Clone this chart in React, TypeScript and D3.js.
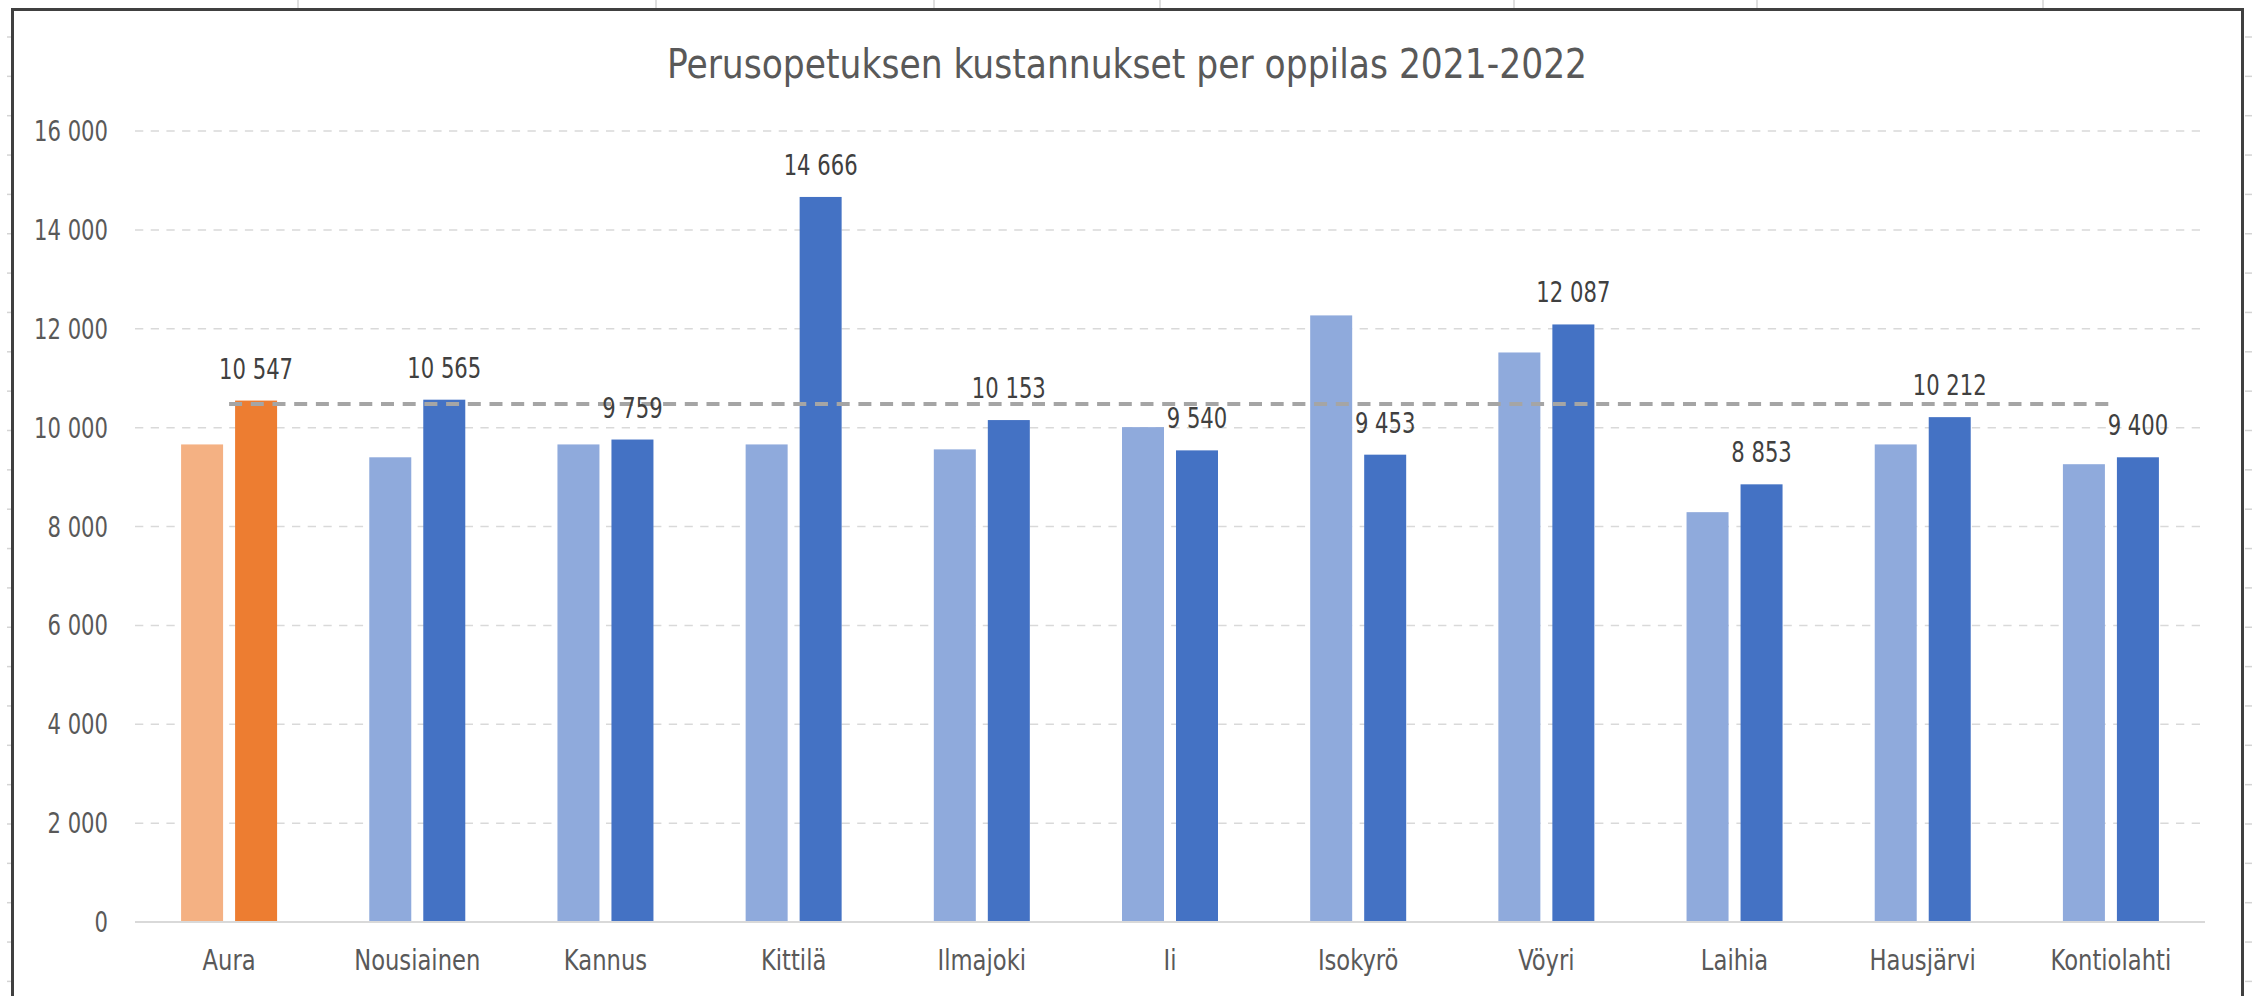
import React from "react";
import * as d3 from "d3";

const categories = ["Aura", "Nousiainen", "Kannus", "Kittilä", "Ilmajoki", "Ii", "Isokyrö", "Vöyri", "Laihia", "Hausjärvi", "Kontiolahti"];
const series = ["2021", "2022"];
const values2021 = [9660, 9400, 9660, 9660, 9560, 10010, 12270, 11520, 8290, 9660, 9260];
const values2022 = [10547, 10565, 9759, 14666, 10153, 9540, 9453, 12087, 8853, 10212, 9400];
const yTicks = [0, 2000, 4000, 6000, 8000, 10000, 12000, 14000, 16000];
const title = "Perusopetuksen kustannukset per oppilas 2021-2022";
const sheetColumnLines = [298, 656, 934, 1160, 1514, 1757, 2043];

const W = 2252;
const H = 996;
const FONT = "'Liberation Sans Narrow', 'DejaVu Sans Condensed', 'Liberation Sans', sans-serif";

const fmt = (v: number) => d3.format(",")(v).replace(/,/g, " ");

function T(props: { x: number; y: number; sx: number; size: number; fill: string; anchor: "start" | "middle" | "end"; children: React.ReactNode }) {
  return (
    <text transform={`translate(${props.x},${props.y}) scale(${props.sx},1)`} textAnchor={props.anchor} fontSize={props.size} fill={props.fill}>
      {props.children}
    </text>
  );
}

export default function App() {
  const x = d3.scaleBand<string>().domain(categories).range([135, 2205]).paddingInner(0).paddingOuter(0);
  const groupW = 96;
  const x1 = d3.scaleBand<string>().domain(series).range([0, groupW]).paddingInner(12 / 54).paddingOuter(0);
  const y = d3.scaleLinear().domain([0, 16000]).range([922, 131]);
  const avg = d3.mean(values2022) as number;

  const isAura = (i: number) => i === 0;
  const colorLight = (i: number) => (isAura(i) ? "#F4B183" : "#8FAADC");
  const colorDark = (i: number) => (isAura(i) ? "#ED7D31" : "#4472C4");

  const cx = (c: string) => (x(c) as number) + x.bandwidth() / 2;
  const gx = (c: string, s: string) => cx(c) - groupW / 2 + (x1(s) as number);

  const rowLines = d3.range(0, 25).map((k) => 37 + 39.35 * k).filter((v) => v < H);

  const avgLine = d3.line<string>().x((c) => cx(c)).y(() => y(avg));
  const avgPath = avgLine([categories[0], categories[categories.length - 1]]) as string;

  return (
    <div style={{ position: "absolute", left: 0, top: 0 }}>
      <svg width={W} height={H} style={{ display: "block", background: "#fff" }} fontFamily={FONT}>
        <rect x={0} y={0} width={W} height={H} fill="#ffffff" />
        {sheetColumnLines.map((lx) => (
          <line key={"c" + lx} x1={lx} x2={lx} y1={0} y2={9} stroke="#D4D4D4" strokeWidth={1.5} />
        ))}
        {rowLines.map((ly) => (
          <g key={"r" + ly}>
            <line x1={7} x2={12} y1={ly} y2={ly} stroke="#D4D4D4" strokeWidth={1.5} />
            <line x1={2245} x2={2252} y1={ly} y2={ly} stroke="#D4D4D4" strokeWidth={1.5} />
          </g>
        ))}
        <rect x={12.5} y={9.5} width={2230} height={1000} fill="#ffffff" stroke="#404040" strokeWidth={3} />

        <T x={1127} y={78} sx={0.96} size={40} fill="#595959" anchor="middle">
          {title}
        </T>

        {yTicks.filter((t) => t > 0).map((t) => (
          <line key={"g" + t} x1={135} x2={2205} y1={y(t)} y2={y(t)} stroke="#D9D9D9" strokeWidth={1.5} strokeDasharray="8.3,7.4" />
        ))}
        {yTicks.map((t) => (
          <T key={"t" + t} x={108} y={y(t) + 10} sx={0.84} size={28} fill="#595959" anchor="end">
            {fmt(t)}
          </T>
        ))}

        {categories.map((c, i) => (
          <g key={c}>
            <rect x={gx(c, "2021")} y={y(values2021[i])} width={x1.bandwidth()} height={y(0) - y(values2021[i])} fill={colorLight(i)} />
            <rect x={gx(c, "2022")} y={y(values2022[i])} width={x1.bandwidth()} height={y(0) - y(values2022[i])} fill={colorDark(i)} />
          </g>
        ))}

        <line x1={135} x2={2205} y1={y(0)} y2={y(0)} stroke="#D9D9D9" strokeWidth={2} />

        <path d={avgPath} fill="none" stroke="#A5A5A5" strokeWidth={4} strokeDasharray="13,8.7" />

        {categories.map((c, i) => (
          <T key={"l" + c} x={gx(c, "2022") + x1.bandwidth() / 2} y={y(values2022[i]) - 22} sx={0.84} size={28} fill="#404040" anchor="middle">
            {fmt(values2022[i])}
          </T>
        ))}

        {categories.map((c) => (
          <T key={"x" + c} x={cx(c)} y={970} sx={0.9} size={28} fill="#595959" anchor="middle">
            {c}
          </T>
        ))}
      </svg>
    </div>
  );
}
